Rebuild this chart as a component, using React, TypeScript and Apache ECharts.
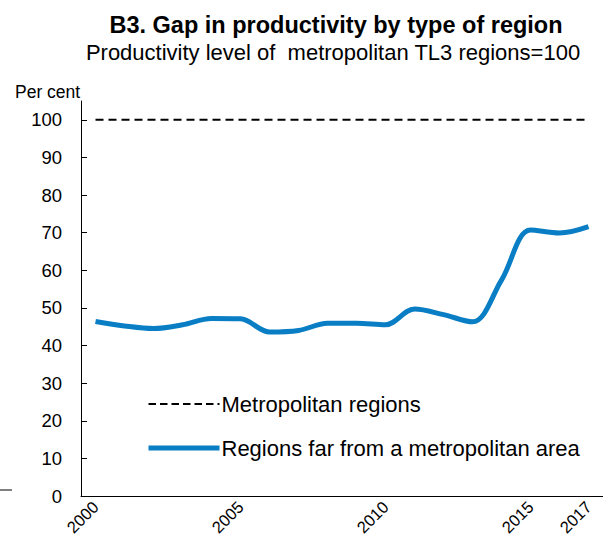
import React, { useEffect, useRef } from "react";
import * as echarts from "echarts";

const years = ["2000","2001","2002","2003","2004","2005","2006","2007","2008","2009","2010","2011","2012","2013","2014","2015","2016","2017"];
const metroValues = [100,100,100,100,100,100,100,100,100,100,100,100,100,100,100,100,100,100];
const farValues = [46.4,45.2,44.5,45.5,47.2,47.1,43.6,44.0,45.9,45.9,45.5,49.7,48.2,46.3,57.4,70.7,69.9,71.6];
const yTicks = [0,10,20,30,40,50,60,70,80,90,100];
const shownYears = ["2000","2005","2010","2015","2017"];

const FONT = "Liberation Sans, Arial, sans-serif";
const BLUE = "#0a7ec4";

export default function App() {
  const ref = useRef<HTMLDivElement>(null);
  useEffect(() => {
    if (!ref.current) return;
    const chart = echarts.init(ref.current, null, { renderer: "svg" });
    chart.setOption({
      animation: false,
      textStyle: { fontFamily: FONT },
      title: [
        {
          text: "B3. Gap in productivity by type of region",
          left: 336, top: 13, padding: 0, textAlign: "center",
          textStyle: { fontSize: 23.5, fontWeight: "bold", color: "#000", fontFamily: FONT },
        },
        {
          text: "Productivity level of  metropolitan TL3 regions=100",
          left: 333, top: 41, padding: 0, textAlign: "center",
          textStyle: { fontSize: 22, fontWeight: "normal", color: "#000", fontFamily: FONT },
        },
        {
          text: "Per cent",
          left: 15, top: 83, padding: 0,
          textStyle: { fontSize: 17.5, fontWeight: "normal", color: "#000", fontFamily: FONT },
        },
      ],
      legend: {
        orient: "vertical",
        left: 146, top: 393, padding: 0,
        itemWidth: 71, itemHeight: 14, itemGap: 22,
        itemStyle: { opacity: 0 },
        textStyle: { fontSize: 22, color: "#000", fontFamily: FONT, padding: [0, 0, 0, -3] },
        data: [
          { name: "Metropolitan regions", lineStyle: { width: 2, type: [7.5, 4] } },
          { name: "Regions far from a metropolitan area", lineStyle: { width: 5 } },
        ],
      },
      grid: { left: 81, right: 0, top: 101, bottom: 46, containLabel: false },
      xAxis: {
        type: "category",
        data: years,
        boundaryGap: true,
        axisLine: { lineStyle: { color: "#000", width: 1 } },
        axisTick: { show: false },
        axisLabel: {
          rotate: 45,
          fontSize: 16.5,
          color: "#000",
          fontFamily: FONT,
          margin: 8,
          interval: (i: number, v: string) => shownYears.includes(v),
        },
      },
      yAxis: {
        type: "value",
        min: 0, max: 105, interval: 10,
        splitLine: { show: false },
        axisLine: { show: true, lineStyle: { color: "#000", width: 1 } },
        axisTick: { show: true, inside: true, length: 6, lineStyle: { color: "#000" }, customValues: yTicks },
        axisLabel: { fontSize: 18.5, color: "#000", fontFamily: FONT, margin: 19, customValues: yTicks },
      },
      graphic: [
        { type: "line", shape: { x1: 0, y1: 490, x2: 12, y2: 490 }, style: { stroke: "#000", lineWidth: 1 } },
      ],
      series: [
        {
          name: "Metropolitan regions",
          type: "line",
          data: metroValues,
          symbol: "none",
          lineStyle: { color: "#000", width: 2, type: [8, 5] },
          itemStyle: { color: "#000" },
        },
        {
          name: "Regions far from a metropolitan area",
          type: "line",
          data: farValues,
          symbol: "none",
          smooth: 0.35,
          lineStyle: { color: BLUE, width: 5 },
          itemStyle: { color: BLUE },
        },
      ],
    });
    return () => chart.dispose();
  }, []);
  return <div ref={ref} style={{ width: 603, height: 542, position: "absolute", left: 0, top: 0 }} />;
}
